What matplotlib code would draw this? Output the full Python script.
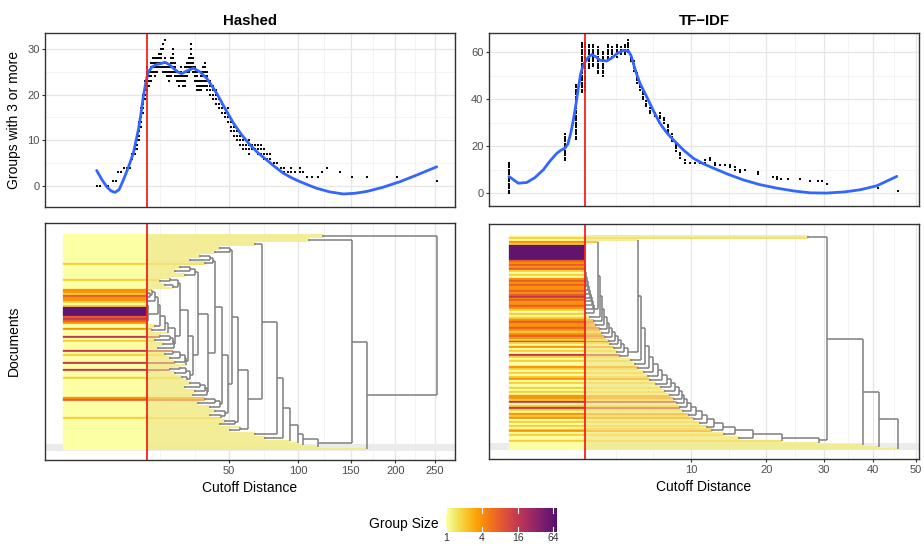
import numpy as np
import matplotlib
matplotlib.use("Agg")
import matplotlib.pyplot as plt
from matplotlib.collections import LineCollection
from matplotlib import colormaps
from matplotlib.transforms import blended_transform_factory

plt.rcParams['font.family'] = ['Liberation Sans', 'DejaVu Sans']

# ---------------- data ----------------
panel_titles = ["Hashed", "TF\u2212IDF"]
cutoff_hashed = 12.8
cutoff_tfidf = 1.75
x_breaks_hashed = [50, 100, 150, 200, 250]
x_breaks_tfidf = [10, 20, 30, 40, 50]
y_breaks_hashed = [0, 10, 20, 30]
y_breaks_tfidf = [0, 20, 40, 60]
legend_breaks = [1, 4, 16, 64]
legend_max = 73.5

# top panels: number of groups with 3 or more documents, per cutoff distance
hashed_cutoff = [2.09, 2.48, 3.67, 4.53, 5.09, 5.48, 6.09, 6.74, 7.42, 8.13,
                 8.62, 9.39, 9.9, 10.46, 11.02, 11.59, 12.2, 12.8, 13.39, 14.02,
                 14.67, 15.3, 16.0, 16.69, 17.39, 18.11, 18.84, 19.59, 20.35, 21.12,
                 21.9, 22.7, 23.53, 24.37, 25.21, 26.08, 26.9, 27.84, 28.75, 29.67,
                 30.6, 31.6, 32.5, 33.5, 34.49, 35.49, 36.5, 37.5, 39.13, 40.7,
                 42.39, 44.07, 45.78, 47.5, 49.3, 51.11, 52.95, 54.82, 56.7, 58.67,
                 60.64, 62.64, 64.68, 66.8, 68.85, 70.99, 73.16, 75.36, 77.6, 80.62,
                 82.9, 86.07, 88.44, 91.67, 94.13, 97.47, 101.7, 104.3, 107.8, 112.3,
                 117.7, 121.5, 126.2, 139.0, 151.2, 167.3, 202.0, 253.3]
hashed_groups = [[0], [0], [0], [1], [1], [3], [3], [4], [4], [4],
                 [6, 7], [7, 8, 9], [8, 9, 10, 11], [10, 11, 12, 13, 14], [13, 14, 15, 16, 17],
                 [16, 17, 18, 19, 20], [19, 20, 21, 22, 23], [21, 22, 23, 24, 25, 26],
                 [22, 23, 24, 25], [23, 24, 25, 26, 27],
                 [25, 26, 27, 28], [24, 25, 26, 27, 28], [25, 26, 27, 28], [26, 27, 28, 29],
                 [26, 27, 28, 29, 30], [25, 26, 27, 30, 31], [25, 26, 27, 28, 32],
                 [24, 25, 26, 27], [23, 24, 25, 26], [24, 25, 26, 27, 28],
                 [25, 26, 27, 28, 29, 30], [24, 25, 26, 27], [23, 24, 25], [22, 23, 24, 25],
                 [23, 24, 25, 26], [22, 23, 24], [22, 23, 24, 25, 26], [24, 25, 26, 27],
                 [25, 26, 27, 28], [26, 27, 28, 29, 30, 31],
                 [25, 26, 27, 28], [23, 24, 25, 26], [21, 22, 23, 24, 25], [21, 22, 23],
                 [21, 22, 23, 24, 25], [22, 23, 24, 25, 26], [22, 23, 24, 25, 26, 27],
                 [21, 22, 23, 24, 25], [20, 21, 22, 23], [19, 20, 21, 22],
                 [18, 19, 20, 21], [17, 18, 19], [16, 17, 18], [15, 16, 17], [14, 15, 16, 17],
                 [12, 13, 14], [11, 12, 13], [10, 11, 12], [9, 10, 11], [8, 9, 10],
                 [8, 9], [7, 8, 9, 10], [8, 9], [8, 9], [7, 8, 9], [7, 8, 9], [6, 7, 8],
                 [6, 7], [5, 6, 7], [5],
                 [4, 5], [4], [3, 4], [3], [3, 4], [3], [3, 4], [3], [2], [2],
                 [2], [3], [4], [3], [2], [2], [2], [1]]
hashed_smooth_x = [2.05, 2.7, 3.45, 4.2, 4.9, 5.7, 6.59, 7.7, 8.96, 10.28,
                   11.0, 11.68, 12.4, 13.18, 14.4, 15.89, 17.3, 18.84, 20.4, 22.04,
                   23.8, 25.5, 27.8, 30.76, 33.9, 37.37, 40.0, 42.76, 47.5, 52.53,
                   57.8, 63.32, 69.0, 75.12, 81.3, 87.9, 94.6, 101.7, 109.0, 116.5,
                   129.0, 142.3, 154.0, 167.0, 185.0, 205.7, 228.0, 252.9]
hashed_smooth_y = [3.4, 1.5, -0.15, -1.1, -1.4, -0.8, 1.3, 4.0, 7.2, 12.3,
                   15.8, 19.6, 22.6, 25.0, 26.1, 26.6, 26.8, 27.1, 26.6, 25.8,
                   25.0, 24.6, 25.2, 25.8, 25.0, 23.6, 22.0, 20.3, 17.0, 13.8,
                   11.2, 9.0, 7.2, 5.7, 4.2, 2.8, 1.8, 0.95, 0.2, -0.5,
                   -1.3, -1.75, -1.6, -1.2, -0.3, 0.95, 2.5, 4.2]

tfidf_cutoff = [0.0, 0.948, 1.358, 1.612, 1.747, 1.936, 2.134, 2.396, 2.673, 2.965,
                3.209, 3.528, 3.794, 4.07, 4.283, 4.502, 4.726, 4.956, 5.19, 5.431,
                5.677, 6.013, 6.447, 6.896, 7.267, 7.646, 8.036, 8.435, 8.845, 9.37,
                9.909, 10.46, 11.03, 11.62, 12.22, 12.84, 13.47, 14.11, 14.77, 15.45,
                16.14, 16.85, 18.75, 21.08, 21.72, 22.38, 23.54, 25.61, 27.4, 28.88,
                29.63, 30.58, 41.18, 45.77]
tfidf_groups = [[0, 1, 2, 3, 4, 5, 6, 7, 8, 9, 10, 11, 12, 13],
                [14, 15, 16, 17, 18, 19, 20, 21, 22, 23, 24, 25],
                [23, 24, 25, 26, 27, 28, 29, 30, 31, 32, 33, 34, 35, 36, 37, 38, 39, 40,
                 41, 42, 43, 44, 45, 46],
                [43, 44, 45, 46, 47, 48, 49, 50, 51, 52, 53, 54, 55, 56, 57, 58, 59, 60,
                 61, 62, 63, 64],
                [44, 45, 46, 47, 48, 49, 50, 51, 52, 53, 54, 55, 56, 57, 58, 59, 60, 61,
                 62, 63, 64],
                [53, 54, 55, 56, 57, 58, 59, 60, 61, 62, 63],
                [54, 55, 56, 57, 58, 59, 60, 61, 62, 63],
                [51, 52, 53, 54, 55, 56, 57, 58, 59, 60, 61, 62],
                [50, 51, 52, 53, 54, 55, 56, 57, 58, 59, 60],
                [57, 58, 59, 60, 61, 62, 63],
                [58, 59, 60, 61, 62], [58, 59, 60, 61, 62, 63], [59, 60, 61, 62],
                [59, 60, 61, 62, 63], [60, 61, 62, 63, 64, 65], [56, 57, 58],
                [52, 53, 54, 55, 56], [47, 48, 49, 50, 51], [44, 45, 46, 47], [40, 41, 42, 43],
                [37, 38, 39], [34, 35, 36], [33, 34], [32, 33, 34], [30, 31, 32],
                [26, 27, 28, 29], [22, 23, 24, 25], [18, 19, 20, 21], [15, 16, 17], [13, 14],
                [13], [13], [13], [13, 14], [14, 15], [12, 13], [12], [12], [11, 12], [10, 11],
                [9, 10], [10], [8, 9], [7], [6, 7], [6], [6], [6], [5], [5],
                [5], [4], [2], [1]]
tfidf_smooth_x = [0.0, 0.026, 0.094, 0.2, 0.356, 0.5, 0.688, 0.82, 0.948, 1.05,
                  1.15, 1.25, 1.358, 1.45, 1.553, 1.65, 1.747, 1.9, 2.068, 2.28,
                  2.505, 2.887, 3.2, 3.508, 3.953, 4.305, 4.5, 4.675, 4.93, 5.19,
                  5.735, 6.3, 6.896, 7.5, 8.165, 9.2, 10.27, 11.4, 12.63, 14.5,
                  16.6, 19.0, 21.67, 24.5, 27.4, 30.53, 34.0, 37.26, 40.89, 45.46]
tfidf_smooth_y = [7.06, 4.2, 4.5, 6.5, 9.9, 13.5, 16.9, 18.3, 19.1, 21.0,
                  25.4, 31.0, 38.1, 44.5, 50.8, 54.0, 55.8, 57.8, 58.9, 58.0,
                  56.5, 56.2, 57.5, 59.3, 60.7, 60.4, 58.5, 55.1, 50.5, 46.6,
                  40.9, 35.0, 29.6, 25.8, 22.6, 18.3, 14.8, 12.5, 10.6, 8.0,
                  5.6, 3.6, 2.1, 0.9, 0.1, 0.0, 0.5, 1.4, 3.1, 7.1]

# bottom panels: merge distance between neighbouring documents (ordered dendrogram)
hashed_merge = [122.4, 253.3, 110, 151.2, 66.8, 71.7, 44.6, 50.5, 41.8, 51.7,
                34.0, 39.1, 29.2, 40.5, 36.5, 41.8, 24.8, 29.2, 22.7, 31.6,
                26.9, 33.0, 20.7, 17.0, 23.9, 18.8, 22.0, 24.8, 14.3, 0.5,
                13.7, 1.0, 15.3, 0.3, 16.3, 2.0, 13.0, 0, 0, 0,
                0, 13.2, 0.5, 0.2, 1.0, 17.0, 15.3, 18.8, 14.3, 20.0,
                22.7, 17.0, 20.7, 15.3, 21.9, 18.1, 22.3, 16.3, 28.3, 21.9,
                18.8, 24.8, 20.7, 26.9, 22.7, 27.5, 30.6, 24.8, 20.7, 27.5,
                22.7, 29.2, 25.5, 28.0, 38.1, 29.2, 34.0, 26.9, 36.5, 31.6,
                37.5, 30.6, 45.8, 36.5, 42.0, 33.0, 44.6, 39.1, 49.3, 41.8,
                47.5, 39.1, 45.0, 55.5, 47.5, 53.6, 44.6, 62.0, 56.7, 50.5,
                82.9, 66.8, 87.6, 73.9, 93.3, 100.0, 104.3, 117.7, 167.3]
hashed_group_size = [1, 1, 1, 1, 1, 1, 1, 1, 1, 1,
                     1, 1, 1, 1, 1, 2, 1, 1, 1, 1,
                     1, 1, 1, 2, 1, 1, 1, 1, 4, 4,
                     2, 8, 4, 4, 2, 1, 2, 64, 64, 64,
                     64, 64, 8, 16, 8, 4, 1, 1, 4, 1,
                     1, 1, 16, 1, 2, 1, 1, 1, 1, 16,
                     1, 2, 1, 1, 1, 16, 1, 1, 1, 16,
                     1, 1, 1, 2, 1, 1, 1, 1, 1, 1,
                     1, 1, 1, 4, 8, 1, 1, 1, 1, 1,
                     1, 1, 1, 2, 1, 1, 1, 1, 1, 1,
                     1, 1, 1, 1, 1, 1, 1, 1, 1, 1]

tfidf_merge = [27.0, 30.6, 5.0, 2.4, 1.5, 0, 0, 0, 0, 0,
               0, 0, 1.6, 0.5, 1.65, 0.3, 1.0, 1.7, 0.8, 1.75,
               0.4, 1.2, 1.8, 0.9, 1.85, 0.6, 1.9, 1.3, 1.95, 0.7,
               2.0, 1.5, 2.05, 1.0, 2.1, 1.6, 2.15, 1.2, 2.2, 1.8,
               2.5, 2.0, 2.6, 2.2, 2.75, 2.3, 2.9, 2.5, 3.05, 2.6,
               3.2, 2.8, 3.4, 3.0, 3.6, 3.1, 3.8, 3.3, 4.0, 3.5,
               4.3, 3.7, 5.3, 4.5, 5.6, 4.8, 5.9, 5.0, 6.3, 5.5,
               6.7, 5.8, 7.1, 6.0, 7.5, 6.5, 7.9, 7.0, 8.3, 7.4,
               8.7, 7.8, 9.0, 8.2, 9.3, 8.5, 9.6, 8.8, 10.0, 9.2,
               10.6, 9.8, 11.2, 10.3, 11.9, 11.0, 12.7, 11.8, 13.8, 12.5,
               15.5, 14.0, 18.0, 16.0, 22.5, 29.0, 37.9, 41.4, 45.8]
tfidf_group_size = [1, 2, 1, 4, 2, 64, 64, 64, 64, 64,
                    64, 64, 64, 8, 4, 8, 4, 8, 2, 1,
                    2, 1, 4, 8, 4, 8, 4, 4, 8, 4,
                    8, 16, 4, 8, 4, 4, 8, 4, 2, 1,
                    2, 1, 2, 4, 8, 4, 4, 8, 4, 2,
                    4, 8, 4, 2, 16, 2, 1, 4, 1, 2,
                    1, 16, 2, 1, 2, 1, 1, 4, 2, 1,
                    2, 1, 2, 4, 1, 2, 1, 1, 2, 1,
                    2, 1, 4, 4, 2, 16, 1, 2, 16, 2,
                    1, 4, 2, 4, 1, 2, 1, 2, 1, 2,
                    4, 1, 2, 1, 1, 2, 1, 1, 1, 1]

assert len(hashed_cutoff) == len(hashed_groups)
assert len(tfidf_cutoff) == len(tfidf_groups)
assert len(hashed_smooth_x) == len(hashed_smooth_y)
assert len(tfidf_smooth_x) == len(tfidf_smooth_y)
assert len(hashed_merge) + 1 == len(hashed_group_size)
assert len(tfidf_merge) + 1 == len(tfidf_group_size)

# ---------------- helpers ----------------
def sqrt_f(x):
    x = np.asarray(x, float)
    return np.sign(x) * np.sqrt(np.abs(x))

def sqrt_i(y):
    y = np.asarray(y, float)
    return np.sign(y) * y * y

inferno = colormaps['inferno']
LMAX = np.log2(legend_max)
WISP = np.array([0.95, 0.925, 0.55, 1.0])

def size_color(s):
    t = np.log2(s) / LMAX
    return inferno(1.0 - 0.75 * t)

def minor_breaks(major, lo, hi):
    b = np.sqrt(np.asarray(major, float))
    d = np.diff(b)
    ext = np.concatenate([[b[0] - d[0]], b, [b[-1] + d[-1]]])
    mids = (ext[:-1] + ext[1:]) / 2
    cand = np.concatenate([mids, [ext[0], ext[-1]]])
    cand = cand[(cand > sqrt_f(lo)) & (cand < sqrt_f(hi))]
    return sqrt_i(cand)

TICK_COL = '#4D4D4D'
GRID_MAJ = '#E6E6E6'
GRID_MIN = '#F0F0F0'

def style_axes(ax):
    for s in ax.spines.values():
        s.set_color('#333333')
        s.set_linewidth(1.0)
        s.set_zorder(10)
    ax.tick_params(colors='#333333', labelcolor=TICK_COL, labelsize=8,
                   length=2.5, width=0.8, pad=1.5)

def xgrid(ax, xb, xlim):
    for v in xb:
        ax.axvline(v, color=GRID_MAJ, lw=0.9, zorder=0)
    for v in minor_breaks(xb, *xlim):
        ax.axvline(v, color=GRID_MIN, lw=0.55, zorder=0)

def top_panel(ax, cut, cx, groups, sx, sy, xlim, ylim, xb, yb, title):
    ax.set_xscale('function', functions=(sqrt_f, sqrt_i))
    ax.set_xlim(*xlim)
    ax.set_ylim(*ylim)
    xgrid(ax, xb, xlim)
    step = yb[1] - yb[0]
    for v in yb:
        ax.axhline(v, color=GRID_MAJ, lw=0.9, zorder=0)
    for v in np.arange(yb[0] - step / 2, yb[-1] + step, step):
        if ylim[0] < v < ylim[1]:
            ax.axhline(v, color=GRID_MIN, lw=0.55, zorder=0)
    xs = [c for c, g in zip(cx, groups) for _ in g]
    ys = [v for g in groups for v in g]
    ax.scatter(xs, ys, s=4, marker='_', color='black', linewidths=1.4, zorder=3)
    ax.plot(sx, sy, color='#3366FF', lw=2.0, zorder=4,
            solid_capstyle='round', solid_joinstyle='round')
    ax.axvline(cut, color='#F2221B', lw=1.3, zorder=5)
    ax.set_xticks([])
    ax.set_yticks(yb)
    ax.set_yticklabels([str(v) for v in yb])
    style_axes(ax)
    ax.set_title(title, fontweight='bold', fontsize=10.8, pad=6)

def bottom_panel(ax, cut, gaps, sizes, xlim, ylim, xb, band):
    ax.set_xscale('function', functions=(sqrt_f, sqrt_i))
    ax.set_xlim(*xlim)
    ax.set_ylim(*ylim)
    xgrid(ax, xb, xlim)
    ax.axhspan(band[0], band[1], color='#EBEBEB', lw=0, zorder=0.5)
    gaps = np.asarray(gaps, float)
    n = len(sizes)
    cols = [size_color(s) for s in sizes]
    leaf, leaf_c, inner = [], [], []

    def rec(lo, hi):
        if lo == hi:
            return float(lo), 0.0, True
        j = lo + int(np.argmax(gaps[lo:hi]))
        h = gaps[j]
        a = rec(lo, j)
        b = rec(j + 1, hi)
        if h > 0:
            inner.append([(h, a[0]), (h, b[0])])
        for yy, hh, isleaf in (a, b):
            if h <= 0:
                continue
            if isleaf:
                leaf.append([(0.0, yy), (h, yy)])
                s = sizes[int(yy)]
                c = WISP if s == 1 else 0.5 * np.array(cols[int(yy)]) + 0.5 * WISP
                leaf_c.append(c)
            else:
                inner.append([(hh, yy), (h, yy)])
        return (a[0] + b[0]) / 2, h, False

    rec(0, n - 1)
    ax.add_collection(LineCollection(leaf, colors=leaf_c, linewidths=1.3,
                                     zorder=2))
    ax.add_collection(LineCollection(inner, colors='#7F7F7F', linewidths=1.1,
                                     zorder=3))
    rows = np.arange(n)
    ax.barh(rows, [cut] * n, left=0, height=1.0, color=cols,
            edgecolor=cols, linewidth=0.2, zorder=4)
    ax.axvline(cut, color='#F2221B', lw=1.3, zorder=5)
    ax.set_xticks(xb)
    ax.set_xticklabels([str(v) for v in xb])
    ax.set_yticks([])
    style_axes(ax)
    ax.set_xlabel('Cutoff Distance', fontsize=10, labelpad=4)

# ---------------- figure ----------------
W, H = 924, 546
fig = plt.figure(figsize=(W / 100, H / 100), dpi=100)

def box(x0, y0, x1, y1):
    return [x0 / W, 1 - y1 / H, (x1 - x0) / W, (y1 - y0) / H]

ax_tl = fig.add_axes(box(45, 33, 455, 207))
ax_tr = fig.add_axes(box(489, 33, 919, 206))
ax_bl = fig.add_axes(box(45, 223, 455, 460))
ax_br = fig.add_axes(box(489, 224, 919, 459))

xlim_h = (-0.587, 278.2)
xlim_t = (-0.121, 50.8)

top_panel(ax_tl, cutoff_hashed, hashed_cutoff, hashed_groups, hashed_smooth_x,
          hashed_smooth_y, xlim_h, (-4.6, 33.5), x_breaks_hashed, y_breaks_hashed,
          panel_titles[0])
top_panel(ax_tr, cutoff_tfidf, tfidf_cutoff, tfidf_groups, tfidf_smooth_x,
          tfidf_smooth_y, xlim_t, (-5.5, 68.1), x_breaks_tfidf, y_breaks_tfidf,
          panel_titles[1])
bottom_panel(ax_bl, cutoff_hashed, hashed_merge, hashed_group_size, xlim_h,
             (114.6, -6.1), x_breaks_hashed, (106.5, 110.0))
bottom_panel(ax_br, cutoff_tfidf, tfidf_merge, tfidf_group_size, xlim_t,
             (114.1, -6.1), x_breaks_tfidf, (105.9, 109.5))

fig.text(14 / W, 1 - 120 / H, 'Groups with 3 or more', rotation=90,
         ha='center', va='center', fontsize=10)
fig.text(14 / W, 1 - 341 / H, 'Documents', rotation=90,
         ha='center', va='center', fontsize=10)

# legend (colour bar)
cax = fig.add_axes(box(446, 508, 557, 532))
t = np.linspace(0, 1, 256)
grad = inferno(1.0 - 0.75 * t)[np.newaxis, :, :]
cax.imshow(grad, extent=(0, LMAX, 0, 1), aspect='auto')
cax.set_xlim(0, LMAX)
cax.set_ylim(0, 1)
for s in cax.spines.values():
    s.set_visible(False)
cax.set_xticks([])
cax.set_yticks([])
trans = blended_transform_factory(cax.transData, cax.transAxes)
for b in legend_breaks:
    v = np.log2(b)
    cax.plot([v, v], [0, 0.2], color='white', lw=0.8)
    cax.plot([v, v], [0.8, 1.0], color='white', lw=0.8)
    cax.text(v, -0.06, str(b), transform=trans, ha='center', va='top',
             fontsize=7.5, color='#333333')
fig.text(439 / W, 1 - 524 / H, 'Group Size', ha='right', va='center', fontsize=10)

fig.savefig('out.png', dpi=100)
